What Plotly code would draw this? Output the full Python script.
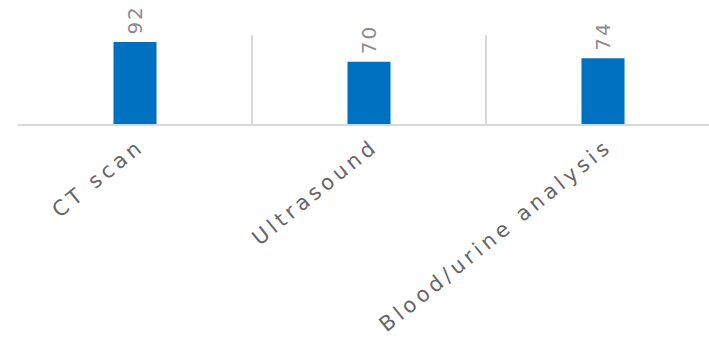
import plotly.graph_objects as go

categories = ["CT scan", "Ultrasound", "Blood/urine analysis"]
values = [92, 70, 74]

fig = go.Figure(go.Bar(
    x=categories, y=values,
    marker=dict(color="#0070C0", line=dict(width=0)),
    width=0.184,
    cliponaxis=False,
))

for c, v in zip(categories, values):
    fig.add_annotation(
        x=c, y=v, text=str(v), showarrow=False,
        textangle=-90, yanchor="bottom", xanchor="center", yshift=7,
        font=dict(family="DejaVu Sans", size=20, color="#8C8C8C"),
    )

fig.update_layout(
    width=709, height=339,
    margin=dict(l=18, r=0, t=35, b=215),
    paper_bgcolor="white", plot_bgcolor="white",
    showlegend=False,
    font=dict(family="DejaVu Sans", color="#595959"),
)
fig.update_xaxes(
    range=[-0.5, 2.453],
    tickson="boundaries",
    showgrid=True, gridcolor="#D9D9D9", gridwidth=1.5,
    showline=True, linecolor="#D9D9D9", linewidth=2,
    ticks="", tickangle=-39, ticklabelshift=4,
    tickfont=dict(family="DejaVu Sans", size=21, color="#666666"),
)
fig.update_yaxes(range=[0, 100], visible=False, showgrid=False)

post = """
var st = document.createElement('style');
st.textContent = '.xtick text{letter-spacing:4px;} .annotation-text{letter-spacing:2px;}';
document.head.appendChild(st);
"""
fig.write_html("out.html", post_script=post)
